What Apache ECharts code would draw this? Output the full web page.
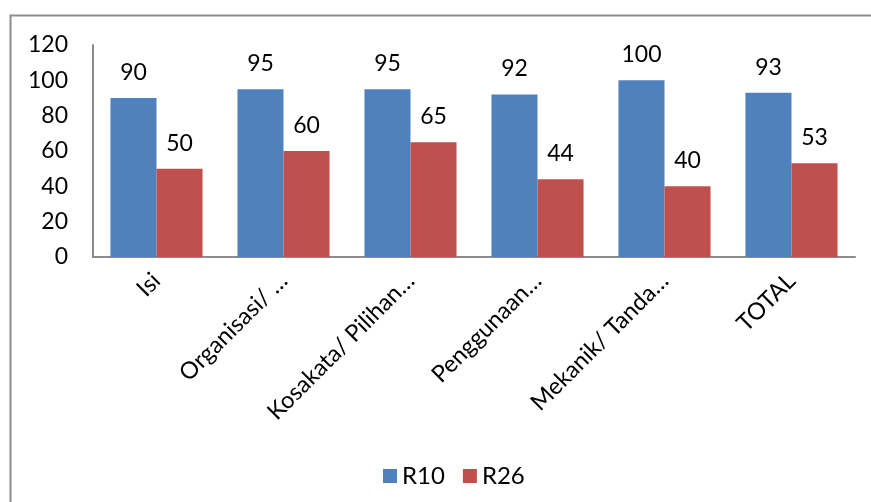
<!DOCTYPE html>
<html>
<head>
<meta charset="utf-8">
<script src="https://cdn.jsdelivr.net/npm/echarts@6/dist/echarts.min.js"></script>
<style>
  html, body { margin: 0; padding: 0; background: #fff; }
  #chart { width: 871px; height: 502px; }
</style>
</head>
<body>
<div id="chart"></div>
<script>
  // data
  var categories = ['Isi', 'Organisasi/ …', 'Kosakata/ Pilihan…', 'Penggunaan…', 'Mekanik/ Tanda…', 'TOTAL'];
  var r10 = [90, 95, 95, 92, 100, 93];
  var r26 = [50, 60, 65, 44, 40, 53];
  var seriesNames = ['R10', 'R26'];

  var font = 'Lato, "Liberation Sans", sans-serif';

  var chart = echarts.init(document.getElementById('chart'));
  var option = {
    animation: false,
    textStyle: { fontFamily: font },
    graphic: [{
      type: 'rect',
      shape: { x: 10.5, y: 15.5, width: 1000, height: 1000 },
      style: { fill: 'none', stroke: '#8c8c8c', lineWidth: 2 },
      silent: true
    }],
    grid: {
      left: 93,
      top: 45,
      right: 16,
      bottom: 245
    },
    legend: {
      data: seriesNames,
      top: 459,
      left: 378,
      icon: 'rect',
      itemWidth: 14,
      itemHeight: 14,
      itemGap: 18,
      textStyle: { fontSize: 24, color: '#000', fontFamily: font }
    },
    xAxis: {
      type: 'category',
      data: categories,
      axisLine: { show: true, lineStyle: { color: '#8c8c8c', width: 2 } },
      axisTick: { show: false },
      axisLabel: {
        interval: 0,
        rotate: 45,
        margin: 20,
        fontSize: 23.5,
        color: '#000',
        fontFamily: font
      },
      splitLine: { show: false }
    },
    yAxis: {
      type: 'value',
      min: 0,
      max: 120,
      interval: 20,
      axisLine: { show: true, lineStyle: { color: '#8c8c8c', width: 2 } },
      axisTick: { show: false },
      axisLabel: {
        margin: 25,
        fontSize: 23,
        color: '#000',
        fontFamily: font
      },
      splitLine: { show: false }
    },
    series: [
      {
        name: seriesNames[0],
        type: 'bar',
        data: r10,
        barGap: '0%',
        barCategoryGap: '27.5%',
        itemStyle: { color: '#4f81bd' },
        label: { show: true, position: 'top', distance: 14, fontSize: 23, color: '#000', fontFamily: font }
      },
      {
        name: seriesNames[1],
        type: 'bar',
        data: r26,
        barGap: '0%',
        barCategoryGap: '27.5%',
        itemStyle: { color: '#c0504d' },
        label: { show: true, position: 'top', distance: 14, fontSize: 23, color: '#000', fontFamily: font }
      }
    ]
  };
  chart.setOption(option);
</script>
</body>
</html>
